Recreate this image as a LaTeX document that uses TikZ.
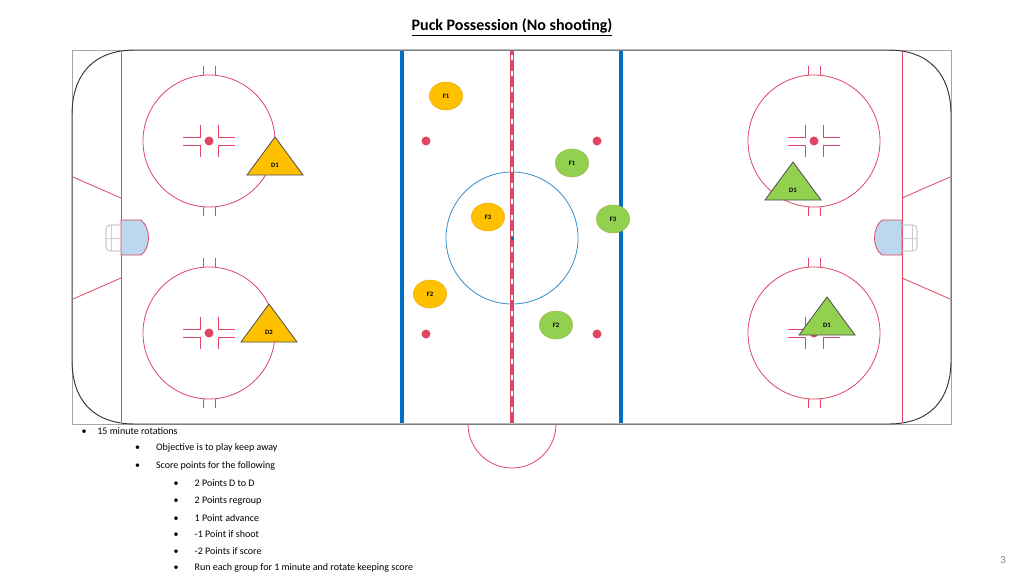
\documentclass[tikz,border=0pt]{standalone}
\usepackage{fontspec}
\setmainfont{Carlito}
\usetikzlibrary{positioning, shapes.geometric}
\definecolor{rinkred}{RGB}{222,70,100}
\definecolor{bluel}{RGB}{0,112,192}
\definecolor{yel}{RGB}{255,192,0}
\definecolor{grn}{RGB}{146,208,80}
\definecolor{crease}{RGB}{189,215,238}

\begin{document}
\begin{tikzpicture}[x=0.75pt, y=-0.75pt,
    pink/.style={draw=rinkred, line width=0.6pt},
    fw/.style={ellipse, draw=#1!70!brown, fill=#1, minimum width=25pt, minimum height=21pt, inner sep=0pt, font=\fontsize{5}{6}\selectfont\bfseries},
    dlab/.style={font=\fontsize{5}{6}\selectfont\bfseries},
    bul/.style={anchor=west, font=\fontsize{7.5}{9}\selectfont}]
        \useasboundingbox (0,0) rectangle (1024,576);
        \node[font=\fontsize{12}{14}\selectfont\bfseries] (title) at (512,27) {\underline{Puck Possession (No shooting)}};

        % rink frame and boards
        \draw[gray!70, line width=0.6pt] (72,50) rectangle (951,424);
        \draw[black!80, line width=0.7pt] (135,50) -- (888,50) .. controls (930,50) and (951,75) .. (951,115)
            -- (951,360) .. controls (951,400) and (930,424) .. (888,424)
            -- (135,424) .. controls (93,424) and (72,400) .. (72,360)
            -- (72,115) .. controls (72,75) and (93,50) .. (135,50);

        % goal lines, crease, nets
        \foreach \gx/\s in {121/1, 902/-1} {
            \draw[pink] (\gx,52) -- (\gx,422);
            \draw[pink] (\gx,198) -- (\gx-\s*48,177);
            \draw[pink] (\gx,278) -- (\gx-\s*48,299);
            \draw[pink, fill=crease] (\gx,220) -- (\gx+\s*20,220) .. controls (\gx+\s*30,228) and (\gx+\s*30,248) .. (\gx+\s*20,255) -- (\gx,255) -- cycle;
            \draw[gray!40, line width=0.8pt, rounded corners=3pt] (\gx,225) -- (\gx-\s*15,225) -- (\gx-\s*15,251) -- (\gx,251);
            \draw[gray!40] (\gx-\s*10,225) -- (\gx-\s*10,251) (\gx-\s*15,238) -- (\gx,238);
        }

        % end zone faceoff circles
        \foreach \cx/\cy in {209/141, 209/333, 814/141, 814/333} {
            \draw[pink] (\cx,\cy) circle (66);
            \fill[rinkred] (\cx,\cy) circle (4.5);
            \draw[pink] (\cx-6,\cy-66) -- (\cx-6,\cy-75) (\cx+6,\cy-66) -- (\cx+6,\cy-75)
                        (\cx-6,\cy+66) -- (\cx-6,\cy+75) (\cx+6,\cy+66) -- (\cx+6,\cy+75);
            \foreach \sx in {-1,1} \foreach \sy in {-1,1}
                \draw[pink] (\cx+\sx*26,\cy+\sy*4) -- (\cx+\sx*9,\cy+\sy*4) -- (\cx+\sx*9,\cy+\sy*16);
        }

        % neutral zone
        \foreach \dx/\dy in {426/141, 597/141, 426/334, 597/334}
            \fill[rinkred] (\dx,\dy) circle (4.5);
        \draw[pink] (468,424) arc (180:360:44 and -44);
        \draw[bluel!80, line width=0.6pt] (512,238) circle (66);
        \draw[bluel, line width=3pt] (402,51) -- (402,423) (621,51) -- (621,423);
        \draw[rinkred, line width=3.5pt] (512,51) -- (512,423);
        \draw[white, line width=1pt, dash pattern=on 4pt off 8pt] (512,55) -- (512,423);
        \fill[bluel] (510.5,236.5) rectangle (513.5,239.5);

        % players
        \node[fw=yel] (yF1) at (446,96) {F1};
        \node[fw=yel] (yF3) at (488,217) {F3};
        \node[fw=yel] (yF2) at (430,294) {F2};
        \node[fw=grn] (gF1) at (572,163) {F1};
        \node[fw=grn] (gF3) at (613,219) {F3};
        \node[fw=grn] (gF2) at (556,325) {F2};
        \foreach \tx/\ty/\col/\lab in {275/137/yel/D1, 269/304/yel/D2, 793/162/grn/D1, 827/297/grn/D1} {
            \draw[fill=\col, draw=gray!60!black, line width=0.6pt] (\tx,\ty) -- (\tx+28,\ty+38) -- (\tx-28,\ty+38) -- cycle;
            \node[dlab] at (\tx,\ty+28) {\lab};
        }

        % notes
        \node[bul] (n1) at (77,431) {\textbullet\hspace{8pt}15 minute rotations};
        \node[bul, below=0pt of n1.south west, anchor=north west, xshift=40pt] (n2) {\textbullet\hspace{12pt}Objective is to play keep away};
        \node[bul, below=0pt of n2.south west, anchor=north west] (n3) {\textbullet\hspace{12pt}Score points for the following};
        \node[bul, below=0pt of n3.south west, anchor=north west, xshift=29pt] (n4) {\textbullet\hspace{12pt}2 Points D to D};
        \node[bul, below=0pt of n4.south west, anchor=north west] (n5) {\textbullet\hspace{12pt}2 Points regroup};
        \node[bul, below=0pt of n5.south west, anchor=north west] (n6) {\textbullet\hspace{12pt}1 Point advance};
        \node[bul, below=0pt of n6.south west, anchor=north west] (n7) {\textbullet\hspace{12pt}-1 Point if shoot};
        \node[bul, below=0pt of n7.south west, anchor=north west] (n8) {\textbullet\hspace{12pt}-2 Points if score};
        \node[bul, below=0pt of n8.south west, anchor=north west] (n9) {\textbullet\hspace{12pt}Run each group for 1 minute and rotate keeping score};
        \node[bul, below=0pt of n9.south west, anchor=north west] (n10) {\textbullet\hspace{12pt}Team with the most points at the end wins};
        \node[font=\fontsize{8}{9}\selectfont, text=gray] (pg) at (1003,560) {3};
\end{tikzpicture}
\end{document}
